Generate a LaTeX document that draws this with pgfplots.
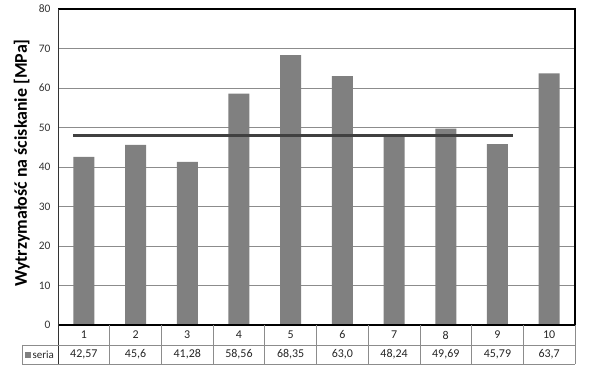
\documentclass[border=0pt]{standalone}
\usepackage{pgfplots}
\pgfplotsset{compat=1.18}
\usepackage{fontspec}
\setmainfont{Carlito}
\definecolor{barc}{RGB}{128,128,128}
\definecolor{linec}{RGB}{64,64,64}
\definecolor{tabc}{RGB}{140,140,140}
\begin{document}
\begin{tikzpicture}[
  tn/.style={font=\fontsize{12}{13}\selectfont, text=black!85},
  tl/.style={tabc, line width=0.7bp},
]
\begin{axis}[
  scale only axis, width=517bp, height=316bp,
  xmin=0.5, xmax=10.5, ymin=0, ymax=80,
  ytick={0,10,...,80}, xtick=\empty,
  ymajorgrids, grid style={tabc, line width=0.6pt},
  axis line style={draw=none},
  major tick length=0pt,
  tick label style={font=\fontsize{11.5}{12}\selectfont, text=black!80},
  /pgf/number format/assume math mode=true,
  yticklabel style={xshift=-4bp},
  ylabel={\bfseries Wytrzymałość na ściskanie [MPa]},
  ylabel style={font=\fontsize{18}{20}\selectfont, at={(axis cs:-0.2,41)}, anchor=center},
  clip=false,
]
\path (axis cs:-0.622,-10.89) rectangle (axis cs:10.925,82.28);
\addplot[ybar, bar width=21bp, fill=barc, draw=none] coordinates {
(1,42.57) (2,45.6) (3,41.28) (4,58.56) (5,68.35) (6,63.0) (7,48.24) (8,49.69) (9,45.79) (10,63.7)};
\addplot[line width=2.6bp, color=linec, mark=none] coordinates {(0.79,48) (9.3,48)};
% borders
\draw[black, line width=1.6bp] (axis cs:0.5,80) -- (axis cs:10.5,80) -- (axis cs:10.5,0);
\draw[black, line width=1.2bp] (axis cs:0.5,0) -- (axis cs:10.5,0);
\draw[black!80, line width=0.8bp] (axis cs:0.5,80) -- (axis cs:0.5,-9.87);
% table
\draw[tl] (axis cs:1.5,0) -- (axis cs:1.5,-9.87);
\draw[tl] (axis cs:2.5,0) -- (axis cs:2.5,-9.87);
\draw[tl] (axis cs:3.5,0) -- (axis cs:3.5,-9.87);
\draw[tl] (axis cs:4.5,0) -- (axis cs:4.5,-9.87);
\draw[tl] (axis cs:5.5,0) -- (axis cs:5.5,-9.87);
\draw[tl] (axis cs:6.5,0) -- (axis cs:6.5,-9.87);
\draw[tl] (axis cs:7.5,0) -- (axis cs:7.5,-9.87);
\draw[tl] (axis cs:8.5,0) -- (axis cs:8.5,-9.87);
\draw[tl] (axis cs:9.5,0) -- (axis cs:9.5,-9.87);
\draw[tl] (axis cs:10.5,0) -- (axis cs:10.5,-9.87);
\draw[tl] (axis cs:-0.196,-5.06) -- (axis cs:10.5,-5.06);
\draw[tl] (axis cs:-0.196,-9.87) -- (axis cs:10.5,-9.87);
\draw[tl] (axis cs:-0.196,-5.06) -- (axis cs:-0.196,-9.87);
\node[tn] at (axis cs:1,-2.53) {1};
\node[tn] at (axis cs:2,-2.53) {2};
\node[tn] at (axis cs:3,-2.53) {3};
\node[tn] at (axis cs:4,-2.53) {4};
\node[tn] at (axis cs:5,-2.53) {5};
\node[tn] at (axis cs:6,-2.53) {6};
\node[tn] at (axis cs:7,-2.53) {7};
\node[tn] at (axis cs:8,-2.53) {8};
\node[tn] at (axis cs:9,-2.53) {9};
\node[tn] at (axis cs:10,-2.53) {10};
\node[tn] at (axis cs:1,-7.47) {42,57};
\node[tn] at (axis cs:2,-7.47) {45,6};
\node[tn] at (axis cs:3,-7.47) {41,28};
\node[tn] at (axis cs:4,-7.47) {58,56};
\node[tn] at (axis cs:5,-7.47) {68,35};
\node[tn] at (axis cs:6,-7.47) {63,0};
\node[tn] at (axis cs:7,-7.47) {48,24};
\node[tn] at (axis cs:8,-7.47) {49,69};
\node[tn] at (axis cs:9,-7.47) {45,79};
\node[tn] at (axis cs:10,-7.47) {63,7};
\node[font=\fontsize{11}{12}\selectfont, text=black!85, inner sep=0pt] at (axis cs:0.14,-7.47) {\textcolor{barc}{\rule{6bp}{6bp}}\,seria};
\end{axis}
\end{tikzpicture}
\end{document}
